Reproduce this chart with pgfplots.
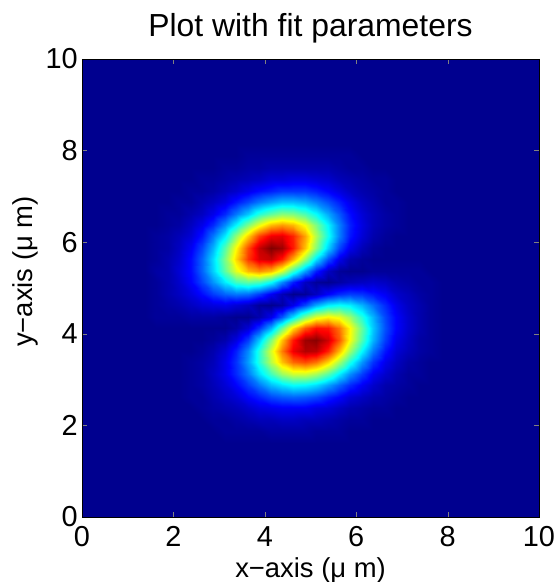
\documentclass[border=0pt]{standalone}
\usepackage{fontspec}
\setmainfont{Liberation Sans}
\usepackage{pgfplots}
\usepackage{pgfplotstable}
\pgfplotsset{compat=1.18}
\definecolor{bgblue}{rgb}{0,0,0.5625}
\pgfplotsset{colormap={mjet}{rgb(0cm)=(0,0,0.5625) rgb(7cm)=(0,0,1) rgb(23cm)=(0,1,1) rgb(39cm)=(1,1,0) rgb(55cm)=(1,0,0) rgb(63cm)=(0.5,0,0)}}
\pgfplotstableread{
x y z
1.5 1.75 0
1.75 1.75 0
2 1.75 0
2.25 1.75 0
2.5 1.75 0
2.75 1.75 0
3 1.75 0
3.25 1.75 0
3.5 1.75 0
3.75 1.75 0
4 1.75 0
4.25 1.75 0
4.5 1.75 0
4.75 1.75 0
5 1.75 0
5.25 1.75 0
5.5 1.75 0
5.75 1.75 0
6 1.75 0
6.25 1.75 0
6.5 1.75 0
6.75 1.75 0
7 1.75 0
7.25 1.75 0
7.5 1.75 0
7.75 1.75 0
8 1.75 0
1.5 2 0
1.75 2 0
2 2 0
2.25 2 0
2.5 2 0
2.75 2 0
3 2 0
3.25 2 0.01
3.5 2 0.01
3.75 2 0.01
4 2 0.01
4.25 2 0.02
4.5 2 0.02
4.75 2 0.02
5 2 0.02
5.25 2 0.01
5.5 2 0.01
5.75 2 0.01
6 2 0
6.25 2 0
6.5 2 0
6.75 2 0
7 2 0
7.25 2 0
7.5 2 0
7.75 2 0
8 2 0
1.5 2.25 0
1.75 2.25 0
2 2.25 0
2.25 2.25 0
2.5 2.25 0
2.75 2.25 0
3 2.25 0.01
3.25 2.25 0.01
3.5 2.25 0.02
3.75 2.25 0.03
4 2.25 0.04
4.25 2.25 0.04
4.5 2.25 0.05
4.75 2.25 0.05
5 2.25 0.04
5.25 2.25 0.04
5.5 2.25 0.03
5.75 2.25 0.02
6 2.25 0.01
6.25 2.25 0.01
6.5 2.25 0
6.75 2.25 0
7 2.25 0
7.25 2.25 0
7.5 2.25 0
7.75 2.25 0
8 2.25 0
1.5 2.5 0
1.75 2.5 0
2 2.5 0
2.25 2.5 0
2.5 2.5 0
2.75 2.5 0.01
3 2.5 0.02
3.25 2.5 0.03
3.5 2.5 0.04
3.75 2.5 0.06
4 2.5 0.08
4.25 2.5 0.09
4.5 2.5 0.10
4.75 2.5 0.10
5 2.5 0.10
5.25 2.5 0.08
5.5 2.5 0.07
5.75 2.5 0.05
6 2.5 0.03
6.25 2.5 0.02
6.5 2.5 0.01
6.75 2.5 0.01
7 2.5 0
7.25 2.5 0
7.5 2.5 0
7.75 2.5 0
8 2.5 0
1.5 2.75 0
1.75 2.75 0
2 2.75 0
2.25 2.75 0
2.5 2.75 0.01
2.75 2.75 0.01
3 2.75 0.03
3.25 2.75 0.05
3.5 2.75 0.07
3.75 2.75 0.11
4 2.75 0.14
4.25 2.75 0.18
4.5 2.75 0.20
4.75 2.75 0.21
5 2.75 0.20
5.25 2.75 0.18
5.5 2.75 0.14
5.75 2.75 0.11
6 2.75 0.07
6.25 2.75 0.05
6.5 2.75 0.03
6.75 2.75 0.02
7 2.75 0.01
7.25 2.75 0
7.5 2.75 0
7.75 2.75 0
8 2.75 0
1.5 3 0
1.75 3 0
2 3 0
2.25 3 0
2.5 3 0.01
2.75 3 0.02
3 3 0.04
3.25 3 0.07
3.5 3 0.11
3.75 3 0.17
4 3 0.23
4.25 3 0.30
4.5 3 0.34
4.75 3 0.37
5 3 0.36
5.25 3 0.33
5.5 3 0.27
5.75 3 0.21
6 3 0.15
6.25 3 0.10
6.5 3 0.06
6.75 3 0.03
7 3 0.02
7.25 3 0.01
7.5 3 0
7.75 3 0
8 3 0
1.5 3.25 0
1.75 3.25 0
2 3.25 0
2.25 3.25 0
2.5 3.25 0.01
2.75 3.25 0.02
3 3.25 0.05
3.25 3.25 0.09
3.5 3.25 0.15
3.75 3.25 0.23
4 3.25 0.33
4.25 3.25 0.43
4.5 3.25 0.52
4.75 3.25 0.57
5 3.25 0.57
5.25 3.25 0.53
5.5 3.25 0.45
5.75 3.25 0.35
6 3.25 0.25
6.25 3.25 0.17
6.5 3.25 0.10
6.75 3.25 0.06
7 3.25 0.03
7.25 3.25 0.01
7.5 3.25 0.01
7.75 3.25 0
8 3.25 0
1.5 3.5 0
1.75 3.5 0
2 3.5 0
2.25 3.5 0
2.5 3.5 0.01
2.75 3.5 0.02
3 3.5 0.04
3.25 3.5 0.09
3.5 3.5 0.16
3.75 3.5 0.27
4 3.5 0.40
4.25 3.5 0.55
4.5 3.5 0.68
4.75 3.5 0.77
5 3.5 0.80
5.25 3.5 0.76
5.5 3.5 0.66
5.75 3.5 0.53
6 3.5 0.39
6.25 3.5 0.26
6.5 3.5 0.16
6.75 3.5 0.09
7 3.5 0.05
7.25 3.5 0.02
7.5 3.5 0.01
7.75 3.5 0
8 3.5 0
1.5 3.75 0
1.75 3.75 0
2 3.75 0
2.25 3.75 0
2.5 3.75 0
2.75 3.75 0.01
3 3.75 0.03
3.25 3.75 0.07
3.5 3.75 0.14
3.75 3.75 0.25
4 3.75 0.40
4.25 3.75 0.58
4.5 3.75 0.75
4.75 3.75 0.89
5 3.75 0.95
5.25 3.75 0.94
5.5 3.75 0.84
5.75 3.75 0.69
6 3.75 0.52
6.25 3.75 0.36
6.5 3.75 0.23
6.75 3.75 0.13
7 3.75 0.07
7.25 3.75 0.04
7.5 3.75 0.02
7.75 3.75 0.01
8 3.75 0
1.5 4 0
1.75 4 0
2 4 0
2.25 4 0
2.5 4 0
2.75 4 0
3 4 0.01
3.25 4 0.03
3.5 4 0.08
3.75 4 0.17
4 4 0.31
4.25 4 0.49
4.5 4 0.68
4.75 4 0.85
5 4 0.97
5.25 4 0.99
5.5 4 0.92
5.75 4 0.79
6 4 0.61
6.25 4 0.44
6.5 4 0.29
6.75 4 0.17
7 4 0.09
7.25 4 0.05
7.5 4 0.02
7.75 4 0.01
8 4 0
1.5 4.25 0
1.75 4.25 0
2 4.25 0
2.25 4.25 0
2.5 4.25 0
2.75 4.25 0
3 4.25 0
3.25 4.25 0
3.5 4.25 0.02
3.75 4.25 0.07
4 4.25 0.16
4.25 4.25 0.29
4.5 4.25 0.47
4.75 4.25 0.65
5 4.25 0.79
5.25 4.25 0.86
5.5 4.25 0.85
5.75 4.25 0.76
6 4.25 0.62
6.25 4.25 0.46
6.5 4.25 0.31
6.75 4.25 0.19
7 4.25 0.11
7.25 4.25 0.06
7.5 4.25 0.03
7.75 4.25 0.01
8 4.25 0
1.5 4.5 0
1.75 4.5 0.01
2 4.5 0.01
2.25 4.5 0.01
2.5 4.5 0.02
2.75 4.5 0.02
3 4.5 0.02
3.25 4.5 0.01
3.5 4.5 0
3.75 4.5 0
4 4.5 0.03
4.25 4.5 0.09
4.5 4.5 0.20
4.75 4.5 0.34
5 4.5 0.49
5.25 4.5 0.59
5.5 4.5 0.63
5.75 4.5 0.60
6 4.5 0.52
6.25 4.5 0.40
6.5 4.5 0.29
6.75 4.5 0.18
7 4.5 0.11
7.25 4.5 0.06
7.5 4.5 0.03
7.75 4.5 0.01
8 4.5 0
1.5 4.75 0
1.75 4.75 0.01
2 4.75 0.02
2.25 4.75 0.03
2.5 4.75 0.05
2.75 4.75 0.07
3 4.75 0.08
3.25 4.75 0.09
3.5 4.75 0.07
3.75 4.75 0.05
4 4.75 0.01
4.25 4.75 0
4.5 4.75 0.02
4.75 4.75 0.09
5 4.75 0.18
5.25 4.75 0.28
5.5 4.75 0.35
5.75 4.75 0.37
6 4.75 0.35
6.25 4.75 0.29
6.5 4.75 0.22
6.75 4.75 0.15
7 4.75 0.09
7.25 4.75 0.05
7.5 4.75 0.03
7.75 4.75 0.01
8 4.75 0
1.5 5 0
1.75 5 0.01
2 5 0.03
2.25 5 0.05
2.5 5 0.08
2.75 5 0.12
3 5 0.17
3.25 5 0.21
3.5 5 0.23
3.75 5 0.22
4 5 0.17
4.25 5 0.10
4.5 5 0.04
4.75 5 0
5 5 0.01
5.25 5 0.05
5.5 5 0.11
5.75 5 0.15
6 5 0.17
6.25 5 0.16
6.5 5 0.13
6.75 5 0.10
7 5 0.06
7.25 5 0.04
7.5 5 0.02
7.75 5 0.01
8 5 0
1.5 5.25 0
1.75 5.25 0.01
2 5.25 0.03
2.25 5.25 0.06
2.5 5.25 0.11
2.75 5.25 0.18
3 5.25 0.26
3.25 5.25 0.35
3.5 5.25 0.43
3.75 5.25 0.46
4 5.25 0.44
4.25 5.25 0.37
4.5 5.25 0.25
4.75 5.25 0.14
5 5.25 0.05
5.25 5.25 0.01
5.5 5.25 0
5.75 5.25 0.02
6 5.25 0.04
6.25 5.25 0.05
6.5 5.25 0.06
6.75 5.25 0.05
7 5.25 0.03
7.25 5.25 0.02
7.5 5.25 0.01
7.75 5.25 0.01
8 5.25 0
1.5 5.5 0
1.75 5.5 0.02
2 5.5 0.03
2.25 5.5 0.07
2.5 5.5 0.12
2.75 5.5 0.21
3 5.5 0.32
3.25 5.5 0.46
3.5 5.5 0.59
3.75 5.5 0.69
4 5.5 0.73
4.25 5.5 0.69
4.5 5.5 0.58
4.75 5.5 0.42
5 5.5 0.27
5.25 5.5 0.14
5.5 5.5 0.05
5.75 5.5 0.01
6 5.5 0
6.25 5.5 0
6.5 5.5 0.01
6.75 5.5 0.01
7 5.5 0.01
7.25 5.5 0.01
7.5 5.5 0.01
7.75 5.5 0
8 5.5 0
1.5 5.75 0
1.75 5.75 0.01
2 5.75 0.03
2.25 5.75 0.06
2.5 5.75 0.12
2.75 5.75 0.21
3 5.75 0.33
3.25 5.75 0.49
3.5 5.75 0.66
3.75 5.75 0.82
4 5.75 0.91
4.25 5.75 0.93
4.5 5.75 0.85
4.75 5.75 0.70
5 5.75 0.52
5.25 5.75 0.34
5.5 5.75 0.19
5.75 5.75 0.09
6 5.75 0.03
6.25 5.75 0.01
6.5 5.75 0
6.75 5.75 0
7 5.75 0
7.25 5.75 0
7.5 5.75 0
7.75 5.75 0
8 5.75 0
1.5 6 0
1.75 6 0.01
2 6 0.02
2.25 6 0.05
2.5 6 0.10
2.75 6 0.18
3 6 0.29
3.25 6 0.45
3.5 6 0.62
3.75 6 0.80
4 6 0.93
4.25 6 1.00
4.5 6 0.97
4.75 6 0.85
5 6 0.68
5.25 6 0.50
5.5 6 0.32
5.75 6 0.18
6 6 0.09
6.25 6 0.04
6.5 6 0.01
6.75 6 0
7 6 0
7.25 6 0
7.5 6 0
7.75 6 0
8 6 0
1.5 6.25 0
1.75 6.25 0.01
2 6.25 0.02
2.25 6.25 0.04
2.5 6.25 0.07
2.75 6.25 0.13
3 6.25 0.23
3.25 6.25 0.35
3.5 6.25 0.51
3.75 6.25 0.67
4 6.25 0.81
4.25 6.25 0.89
4.5 6.25 0.90
4.75 6.25 0.84
5 6.25 0.71
5.25 6.25 0.54
5.5 6.25 0.38
5.75 6.25 0.24
6 6.25 0.13
6.25 6.25 0.07
6.5 6.25 0.03
6.75 6.25 0.01
7 6.25 0
7.25 6.25 0
7.5 6.25 0
7.75 6.25 0
8 6.25 0
1.5 6.5 0
1.75 6.5 0
2 6.5 0.01
2.25 6.5 0.02
2.5 6.5 0.05
2.75 6.5 0.09
3 6.5 0.15
3.25 6.5 0.25
3.5 6.5 0.36
3.75 6.5 0.49
4 6.5 0.60
4.25 6.5 0.69
4.5 6.5 0.72
4.75 6.5 0.69
5 6.5 0.61
5.25 6.5 0.49
5.5 6.5 0.36
5.75 6.5 0.24
6 6.5 0.14
6.25 6.5 0.08
6.5 6.5 0.04
6.75 6.5 0.02
7 6.5 0.01
7.25 6.5 0
7.5 6.5 0
7.75 6.5 0
8 6.5 0
1.5 6.75 0
1.75 6.75 0
2 6.75 0.01
2.25 6.75 0.01
2.5 6.75 0.03
2.75 6.75 0.05
3 6.75 0.09
3.25 6.75 0.15
3.5 6.75 0.23
3.75 6.75 0.31
4 6.75 0.40
4.25 6.75 0.46
4.5 6.75 0.50
4.75 6.75 0.49
5 6.75 0.44
5.25 6.75 0.37
5.5 6.75 0.28
5.75 6.75 0.20
6 6.75 0.12
6.25 6.75 0.07
6.5 6.75 0.04
6.75 6.75 0.02
7 6.75 0.01
7.25 6.75 0
7.5 6.75 0
7.75 6.75 0
8 6.75 0
1.5 7 0
1.75 7 0
2 7 0
2.25 7 0.01
2.5 7 0.01
2.75 7 0.03
3 7 0.05
3.25 7 0.08
3.5 7 0.13
3.75 7 0.18
4 7 0.23
4.25 7 0.27
4.5 7 0.30
4.75 7 0.30
5 7 0.28
5.25 7 0.24
5.5 7 0.19
5.75 7 0.14
6 7 0.09
6.25 7 0.05
6.5 7 0.03
6.75 7 0.01
7 7 0.01
7.25 7 0
7.5 7 0
7.75 7 0
8 7 0
1.5 7.25 0
1.75 7.25 0
2 7.25 0
2.25 7.25 0
2.5 7.25 0.01
2.75 7.25 0.01
3 7.25 0.02
3.25 7.25 0.04
3.5 7.25 0.06
3.75 7.25 0.09
4 7.25 0.12
4.25 7.25 0.14
4.5 7.25 0.16
4.75 7.25 0.16
5 7.25 0.16
5.25 7.25 0.14
5.5 7.25 0.11
5.75 7.25 0.08
6 7.25 0.05
6.25 7.25 0.03
6.5 7.25 0.02
6.75 7.25 0.01
7 7.25 0
7.25 7.25 0
7.5 7.25 0
7.75 7.25 0
8 7.25 0
1.5 7.5 0
1.75 7.5 0
2 7.5 0
2.25 7.5 0
2.5 7.5 0
2.75 7.5 0.01
3 7.5 0.01
3.25 7.5 0.02
3.5 7.5 0.03
3.75 7.5 0.04
4 7.5 0.05
4.25 7.5 0.07
4.5 7.5 0.07
4.75 7.5 0.08
5 7.5 0.08
5.25 7.5 0.07
5.5 7.5 0.06
5.75 7.5 0.04
6 7.5 0.03
6.25 7.5 0.02
6.5 7.5 0.01
6.75 7.5 0.01
7 7.5 0
7.25 7.5 0
7.5 7.5 0
7.75 7.5 0
8 7.5 0
1.5 7.75 0
1.75 7.75 0
2 7.75 0
2.25 7.75 0
2.5 7.75 0
2.75 7.75 0
3 7.75 0
3.25 7.75 0.01
3.5 7.75 0.01
3.75 7.75 0.02
4 7.75 0.02
4.25 7.75 0.03
4.5 7.75 0.03
4.75 7.75 0.03
5 7.75 0.03
5.25 7.75 0.03
5.5 7.75 0.03
5.75 7.75 0.02
6 7.75 0.01
6.25 7.75 0.01
6.5 7.75 0
6.75 7.75 0
7 7.75 0
7.25 7.75 0
7.5 7.75 0
7.75 7.75 0
8 7.75 0
1.5 8 0
1.75 8 0
2 8 0
2.25 8 0
2.5 8 0
2.75 8 0
3 8 0
3.25 8 0
3.5 8 0
3.75 8 0.01
4 8 0.01
4.25 8 0.01
4.5 8 0.01
4.75 8 0.01
5 8 0.01
5.25 8 0.01
5.5 8 0.01
5.75 8 0.01
6 8 0.01
6.25 8 0
6.5 8 0
6.75 8 0
7 8 0
7.25 8 0
7.5 8 0
7.75 8 0
8 8 0
1.5 8.25 0
1.75 8.25 0
2 8.25 0
2.25 8.25 0
2.5 8.25 0
2.75 8.25 0
3 8.25 0
3.25 8.25 0
3.5 8.25 0
3.75 8.25 0
4 8.25 0
4.25 8.25 0
4.5 8.25 0
4.75 8.25 0
5 8.25 0
5.25 8.25 0
5.5 8.25 0
5.75 8.25 0
6 8.25 0
6.25 8.25 0
6.5 8.25 0
6.75 8.25 0
7 8.25 0
7.25 8.25 0
7.5 8.25 0
7.75 8.25 0
8 8.25 0
}\fielddata
\begin{document}
\begin{tikzpicture}
\begin{axis}[
  scale only axis, width=457bp, height=458bp,
  xmin=0, xmax=10, ymin=0, ymax=10,
  enlargelimits=false, axis on top,
  xtick={0,2,4,6,8,10}, ytick={0,2,4,6,8,10},
  tick align=inside, tick pos=both, major tick length=5bp,
  axis background/.style={fill=bgblue},
  colormap name=mjet, point meta min=0, point meta max=1,
  /pgf/number format/assume math mode=true,
  tick label style={font=\fontsize{29}{30}\selectfont},
  yticklabel style={inner xsep=4bp},
  xticklabel style={yshift=-6bp},
  label style={font=\fontsize{27.5}{29}\selectfont},
  xlabel style={yshift=-4bp},
  title style={font=\fontsize{32}{33}\selectfont, yshift=6bp},
  title={Plot with fit parameters},
  xlabel={x−axis (μ m)}, ylabel={y−axis (μ m)},
  ylabel style={at={(ticklabel cs:0.536)}},
]
\addplot[matrix plot*, shader=interp, mesh/cols=27, point meta=explicit] table[x=x, y=y, meta=z] {\fielddata};
\end{axis}
\pgfresetboundingbox
\path[use as bounding box] (-82bp,-65bp) rectangle (475bp,517bp);
\end{tikzpicture}
\end{document}
